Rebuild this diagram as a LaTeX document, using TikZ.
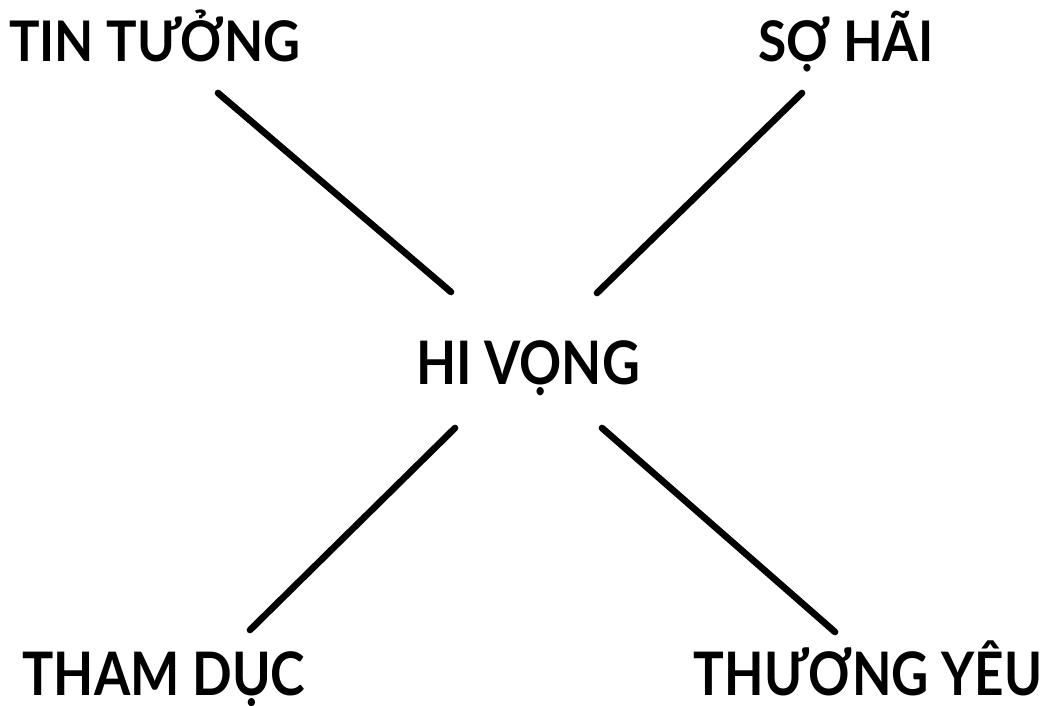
\documentclass[tikz,border=0pt]{standalone}
\usepackage{fontspec}
\usepackage{graphicx}
\setmainfont{Lato}
\usetikzlibrary{positioning}

\tikzset{
  word/.style={anchor=base, inner sep=0pt, font=\fontsize{42}{46}\selectfont\bfseries},
  bigword/.style={word, font=\fontsize{45}{50}\selectfont\bfseries},
  spoke/.style={line width=5pt, line cap=round}
}

\begin{document}
\begin{tikzpicture}[x=0.75pt,y=-0.75pt]
\useasboundingbox (0,0) rectangle (1046,706);

\node[bigword] (hope) at (528,384) {\scalebox{0.87}[1]{HI VỌNG}};
\node[word] (trust) at (155,62) {\scalebox{0.91}[1]{TIN TƯỞNG}};
\node[word] (fear) at (846,62) {\scalebox{0.92}[1]{SỢ HÃI}};
\node[bigword] (lust) at (164,695) {\scalebox{0.87}[1]{THAM DỤC}};
\node[bigword] (love) at (868,695) {\scalebox{0.855}[1]{THƯƠNG YÊU}};

\coordinate (tl) at (218,93);
\coordinate (tlc) at (451,292);
\coordinate (tr) at (802,93);
\coordinate (trc) at (597,293);
\coordinate (bl) at (250,630);
\coordinate (blc) at (455,428);
\coordinate (br) at (835,632);
\coordinate (brc) at (602,428);

\draw[spoke] (tl) -- (tlc);
\draw[spoke] (tr) -- (trc);
\draw[spoke] (blc) -- (bl);
\draw[spoke] (brc) -- (br);
\end{tikzpicture}
\end{document}
